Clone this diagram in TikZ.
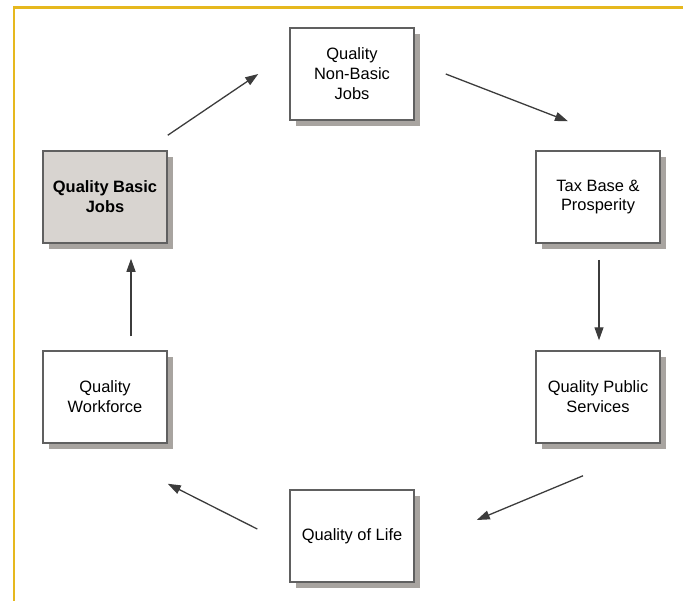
\documentclass[tikz,border=0pt]{standalone}
\usepackage{fontspec}
\setmainfont{Liberation Sans}
\usetikzlibrary{arrows.meta, shadows}

\definecolor{framegold}{RGB}{230,184,30}
\definecolor{boxline}{RGB}{96,96,96}
\definecolor{boxshadow}{RGB}{168,164,160}
\definecolor{basicfill}{RGB}{216,212,208}
\definecolor{arrowgray}{RGB}{60,60,60}

\tikzset{
  stage/.style={draw=boxline, line width=1.5bp, fill=white,
    minimum width=124bp, minimum height=92bp, align=center,
    font=\fontsize{16.5}{20}\selectfont,
    drop shadow={shadow xshift=6bp, shadow yshift=-6bp, fill=boxshadow, opacity=1}},
  flow/.style={draw=arrowgray, line width=1.3bp,
    -{Triangle[length=13bp, width=9bp]}}
}

\begin{document}
\begin{tikzpicture}[x=1bp, y=-1bp]
    \useasboundingbox (0,0) rectangle (683,601);
    \draw[framegold, line width=2.7bp] (14,601) -- (14,7.3) -- (683,7.3);

    \node[stage, fill=basicfill, font=\fontsize{16.5}{20}\selectfont\bfseries]
        (basic) at (105,197) {Quality Basic\\Jobs};
    \node[stage] (nonbasic) at (352,74) {Quality\\Non-Basic\\Jobs};
    \node[stage] (tax) at (598,197) {Tax Base \&\\Prosperity};
    \node[stage] (public) at (598,397) {Quality Public\\Services};
    \node[stage] (life) at (352,536) {Quality of Life};
    \node[stage] (workforce) at (105,397) {Quality\\Workforce};

    \draw[flow] ([shift={(0,-15)}]basic.north east) -- ([shift={(-31,0)}]nonbasic.west);
    \draw[flow] ([shift={(31,0)}]nonbasic.east) -- ([shift={(-30,-29)}]tax.north);
    \draw[flow] ([shift={(1,16)}]tax.south) -- ([shift={(1,-10)}]public.north);
    \draw[flow] ([shift={(-15,32)}]public.south) -- ([shift={(62,-16)}]life.east);
    \draw[flow] ([shift={(-32,-7)}]life.west) -- ([shift={(0,40)}]workforce.south east);
    \draw[flow] ([shift={(26,-14)}]workforce.north) -- ([shift={(26,15)}]basic.south);
\end{tikzpicture}
\end{document}
